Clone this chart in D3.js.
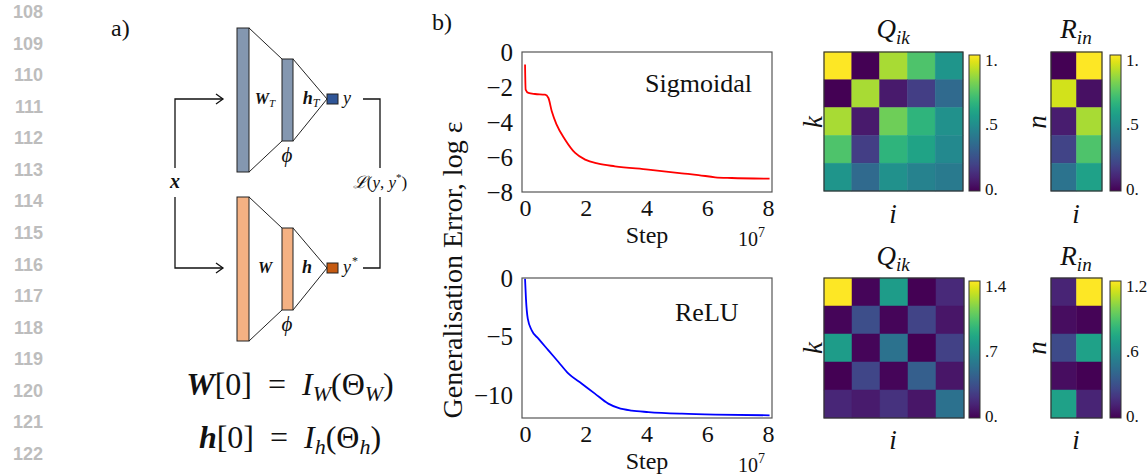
<!DOCTYPE html>
<html><head><meta charset="utf-8">
<script src="https://cdn.jsdelivr.net/npm/d3@7"></script>
<style>
html,body{margin:0;padding:0;background:#fff;}
svg{display:block;}
text{font-family:"Liberation Serif","DejaVu Serif",serif;fill:#111;}
.ln{font-family:"Liberation Sans",Arial,sans-serif;font-weight:bold;fill:#bdbdbd;font-size:18px;}
</style></head>
<body>
<svg id="c" width="1147" height="475"></svg>
<script>
// ---------- data ----------
const lineNumbers = [108,109,110,111,112,113,114,115,116,117,118,119,120,121,122];
const stepTicks = [0,2,4,6,8];
const sigTicks = [0,-2,-4,-6,-8];
const reluTicks = [0,-5,-10];
const sigmoidalX = [0.0,0.02,0.11,0.33,0.66,0.77,0.88,1.04,1.32,1.65,1.98,2.41,2.96,4.06,5.16,5.71,6.26,6.8,8.05];
const sigmoidalY = [-0.72,-2.15,-2.34,-2.4,-2.44,-2.63,-3.39,-4.15,-5.01,-5.77,-6.15,-6.38,-6.53,-6.72,-6.93,-7.03,-7.16,-7.2,-7.24];
const reluX = [0.0,0.03,0.09,0.22,0.44,0.77,1.1,1.43,1.87,2.3,2.74,3.07,3.51,4.06,5.16,6.26,8.05];
const reluY = [-0.06,-1.77,-3.49,-4.49,-5.2,-6.2,-7.2,-8.2,-9.06,-9.91,-10.77,-11.14,-11.37,-11.49,-11.63,-11.71,-11.77];
const qSig = [
  [1.0,0.0,0.87,0.72,0.52],
  [0.0,0.87,0.07,0.18,0.34],
  [0.87,0.07,0.78,0.65,0.50],
  [0.72,0.18,0.65,0.58,0.47],
  [0.52,0.34,0.50,0.44,0.41]];
const rSig = [[0.0,1.0],[0.93,0.04],[0.08,0.87],[0.2,0.72],[0.38,0.57]];
const qRelu = [
  [1.4,0.02,0.77,0.0,0.16],
  [0.02,0.33,0.02,0.28,0.08],
  [0.77,0.02,0.53,0.0,0.27],
  [0.0,0.29,0.02,0.42,0.08],
  [0.15,0.10,0.20,0.08,0.52]];
const rRelu = [[0.12,1.2],[0.04,0.01],[0.27,0.68],[0.04,0.0],[0.68,0.12]];
const qSigTicks = [0,0.5,1.0], qSigLabels = ["0.",".5","1."];
const rSigTicks = [0,0.5,1.0], rSigLabels = ["0.",".5","1."];
const qReluTicks = [0,0.7,1.4], qReluLabels = ["0.",".7","1.4"];
const rReluTicks = [0,0.6,1.2], rReluLabels = ["0.",".6","1.2"];

const svg = d3.select("#c");

// ---------- line numbers ----------
const lnScale = d3.scaleLinear().domain([108,122]).range([12,454]);
svg.selectAll("text.ln").data(lineNumbers).join("text").attr("class","ln")
  .attr("x",43).attr("y",d=>lnScale(d)).attr("text-anchor","end").attr("dominant-baseline","central").text(d=>d);

// ---------- panel labels ----------
svg.append("text").attr("x",111).attr("y",36).attr("font-size",24).text("a)");
svg.append("text").attr("x",432).attr("y",30).attr("font-size",24).text("b)");

// ---------- diagram ----------
const dg = svg.append("g");
function net(top, fillBig, fillSq, labW, labH, labY){
  const r1 = {x:237,y:top,w:12,h:144}, r2={x:282,y:top+31,w:11,h:82};
  const apex = top+71;
  const stroke="#222";
  dg.append("line").attr("x1",249).attr("y1",r1.y).attr("x2",r2.x).attr("y2",r2.y).attr("stroke",stroke).attr("stroke-width",1);
  dg.append("line").attr("x1",249).attr("y1",r1.y+r1.h).attr("x2",r2.x).attr("y2",r2.y+r2.h).attr("stroke",stroke).attr("stroke-width",1);
  dg.append("line").attr("x1",293).attr("y1",r2.y).attr("x2",327).attr("y2",apex).attr("stroke",stroke).attr("stroke-width",1);
  dg.append("line").attr("x1",293).attr("y1",r2.y+r2.h).attr("x2",327).attr("y2",apex).attr("stroke",stroke).attr("stroke-width",1);
  dg.append("rect").attr("x",r1.x).attr("y",r1.y).attr("width",r1.w).attr("height",r1.h).attr("fill",fillBig).attr("stroke",stroke).attr("stroke-width",1);
  dg.append("rect").attr("x",r2.x).attr("y",r2.y).attr("width",r2.w).attr("height",r2.h).attr("fill",fillBig).attr("stroke",stroke).attr("stroke-width",1);
  dg.append("rect").attr("x",327).attr("y",apex-5).attr("width",11).attr("height",10).attr("fill",fillSq).attr("stroke",stroke).attr("stroke-width",1);
  const tW = dg.append("text").attr("x",265).attr("y",apex+5).attr("text-anchor","middle").attr("font-size",16).attr("font-weight","bold").attr("font-style","italic");
  tW.append("tspan").text(labW[0]);
  if(labW[1]) tW.append("tspan").attr("font-size",11).attr("font-weight","normal").attr("dy",3).text(labW[1]);
  const tH = dg.append("text").attr("x",labW[1]?311:307).attr("y",apex+5).attr("text-anchor","middle").attr("font-size",18).attr("font-weight","bold").attr("font-style","italic");
  tH.append("tspan").text(labH[0]);
  if(labH[1]) tH.append("tspan").attr("font-size",12).attr("font-weight","normal").attr("dy",3).text(labH[1]);
  const tY = dg.append("text").attr("x",343).attr("y",apex+5).attr("font-size",18).attr("font-style","italic");
  tY.append("tspan").text("y");
  if(labY) tY.append("tspan").attr("font-size",12).attr("font-style","normal").attr("dy",-8).attr("dx",1).text(labY);
  dg.append("text").attr("x",287).attr("y",r2.y+r2.h+21).attr("text-anchor","middle").attr("font-size",21).attr("font-style","italic").text("ϕ");
  return apex;
}
const a1 = net(28,"#8497b0","#2f5597",["W","T"],["h","T"],null);
const a2 = net(197,"#f4b183","#c55a11",["W",null],["h",null],"*");

// connectors
const ls = {stroke:"#111","stroke-width":1.3,fill:"none"};
function path(d){const p=dg.append("path").attr("d",d);for(const k in ls)p.attr(k,ls[k]);return p;}
path(`M223,${a1} L175,${a1} L175,168`);
path(`M175,197 L175,${a2} L223,${a2}`);
path(`M216,${a1-5} L223,${a1} L216,${a1+5}`);
path(`M216,${a2-5} L223,${a2} L216,${a2+5}`);
path(`M363,${a1} L380,${a1} L380,168`);
path(`M380,197 L380,${a2} L363,${a2}`);
dg.append("text").attr("x",175).attr("y",188).attr("text-anchor","middle").attr("font-size",20).attr("font-weight","bold").attr("font-style","italic").text("x");
const tL = dg.append("text").attr("x",380).attr("y",188).attr("text-anchor","middle").attr("font-size",17);
tL.append("tspan").attr("font-family","'DejaVu Serif',serif").attr("font-style","italic").text("ℒ");
tL.append("tspan").text("(");
tL.append("tspan").attr("font-style","italic").text("y");
tL.append("tspan").text(", ");
tL.append("tspan").attr("font-style","italic").text("y");
tL.append("tspan").attr("font-size",11).attr("dy",-7).text("*");
tL.append("tspan").attr("dy",7).text(")");

// equations
function eq(y, sym, sub){
  const t = svg.append("text").attr("x",290).attr("y",y).attr("text-anchor","middle").attr("font-size",32);
  t.append("tspan").attr("font-weight","bold").attr("font-style","italic").text(sym);
  t.append("tspan").text("[0]\u2002=\u2002");
  t.append("tspan").attr("font-style","italic").text("I");
  t.append("tspan").attr("font-style","italic").attr("font-size",22).attr("dy",6).text(sub);
  t.append("tspan").attr("dy",-6).text("(Θ");
  t.append("tspan").attr("font-style","italic").attr("font-size",22).attr("dy",6).text(sub);
  t.append("tspan").attr("dy",-6).text(")");
}
eq(395,"W","W");
eq(448,"h","h");

// ---------- line charts ----------
const fmt = d => d<0 ? "\u2212"+Math.abs(d) : String(d);
function lineChart(y0,y1,domainY,ticksY,xs,ys,color,label,labX,labY,stepY){
  const x = d3.scaleLinear().domain([-0.1,8.13]).range([522,772]);
  const y = d3.scaleLinear().domain(domainY).range([y1,y0]);
  const g = svg.append("g");
  const data = xs.map((v,i)=>[v,ys[i]]);
  g.append("path").datum(data).attr("fill","none").attr("stroke",color).attr("stroke-width",1.8)
    .attr("d",d3.line().x(d=>x(d[0])).y(d=>y(d[1])).curve(d3.curveMonotoneX));
  g.append("rect").attr("x",522).attr("y",y0).attr("width",250).attr("height",y1-y0).attr("fill","none").attr("stroke","#555").attr("stroke-width",1.2);
  const ax = g.append("g").attr("transform",`translate(0,${y1})`).call(d3.axisBottom(x).tickValues(stepTicks).tickSize(0).tickPadding(7).tickFormat(fmt));
  const ay = g.append("g").attr("transform",`translate(522,0)`).call(d3.axisLeft(y).tickValues(ticksY).tickSize(0).tickPadding(9).tickFormat(fmt));
  ax.select(".domain").remove(); ay.select(".domain").remove();
  ax.selectAll("text").attr("font-family","Liberation Serif, serif").attr("font-size",24).attr("fill","#111").attr("dy","0.72em");
  ay.selectAll("text").attr("font-family","Liberation Serif, serif").attr("font-size",25).attr("fill","#111").attr("dy","0.34em");
  g.append("text").attr("y",labY).attr("x",labX).attr("font-size",26).text(label);
  g.append("text").attr("x",647).attr("y",stepY).attr("text-anchor","middle").attr("font-size",24).text("Step");
  const e = g.append("text").attr("x",738).attr("y",stepY+3).attr("font-size",20);
  e.append("tspan").text("10");
  e.append("tspan").attr("font-size",14).attr("dy",-9).text("7");
}
lineChart(52,192,[-8,0],sigTicks,sigmoidalX,sigmoidalY,"#ff0000","Sigmoidal",645,92,243);
lineChart(278,418,[-12,0],reluTicks,reluX,reluY,"#0000ff","ReLU",675,321,469);
svg.append("text").attr("transform","translate(462,270) rotate(-90)").attr("text-anchor","middle").attr("font-size",28)
  .text("Generalisation Error, log ε");

// ---------- heatmaps ----------
function heatmap(data, x0, y0, w, h, max, ticks, labels, cbx){
  const rows = d3.range(data.length), cols = d3.range(data[0].length);
  const xb = d3.scaleBand().domain(cols).range([x0,x0+w]);
  const yb = d3.scaleBand().domain(rows).range([y0,y0+h]);
  const col = d3.scaleSequential(d3.interpolateViridis).domain([0,max]);
  const g = svg.append("g");
  data.forEach((row,r)=>row.forEach((v,c)=>{
    g.append("rect").attr("x",xb(c)).attr("y",yb(r)).attr("width",xb.bandwidth()).attr("height",yb.bandwidth())
      .attr("fill",col(v)).attr("stroke",col(v)).attr("stroke-width",0.5);
  }));
  g.append("rect").attr("x",x0).attr("y",y0).attr("width",w).attr("height",h).attr("fill","none").attr("stroke","#333").attr("stroke-width",1.2);
  const id = "grad"+Math.round(x0)+"_"+Math.round(y0);
  const grad = svg.append("defs").append("linearGradient").attr("id",id).attr("x1",0).attr("y1",1).attr("x2",0).attr("y2",0);
  d3.range(0,1.0001,0.05).forEach(t=>grad.append("stop").attr("offset",t).attr("stop-color",d3.interpolateViridis(t)));
  const cbTop = y0+3, cbBot = y0+h;
  g.append("rect").attr("x",cbx).attr("y",cbTop).attr("width",11).attr("height",cbBot-cbTop).attr("fill",`url(#${id})`).attr("stroke","#333").attr("stroke-width",1);
  const ys = d3.scaleLinear().domain([0,max]).range([cbBot-2,cbTop+5]);
  ticks.forEach((t,i)=>{
    g.append("text").attr("x",cbx+16).attr("y",ys(t)).attr("dy","0.35em").attr("font-size",17).text(labels[i]);
  });
}
heatmap(qSig, 824, 52, 139, 139, 1.0, qSigTicks, qSigLabels, 969);
heatmap(rSig, 1051, 52, 51, 139, 1.0, rSigTicks, rSigLabels, 1110);
heatmap(qRelu, 824, 278, 140, 140, 1.4, qReluTicks, qReluLabels, 969);
heatmap(rRelu, 1051, 278, 51, 140, 1.2, rReluTicks, rReluLabels, 1110);

function title(x,y,main,sub){
  const t = svg.append("text").attr("x",x).attr("y",y).attr("text-anchor","middle").attr("font-size",27).attr("font-style","italic");
  t.append("tspan").text(main);
  t.append("tspan").attr("font-size",19).attr("dy",6).text(sub);
}
title(893,38,"Q","ik"); title(1076,38,"R","in");
title(893,265,"Q","ik"); title(1076,265,"R","in");
function axlab(x,y,s,rot){
  svg.append("text").attr("transform",`translate(${x},${y})`+(rot?" rotate(-90)":"")).attr("text-anchor","middle").attr("dominant-baseline","central")
    .attr("font-size",27).attr("font-style","italic").text(s);
}
axlab(813,122,"k",true); axlab(1037,122,"n",true);
axlab(813,348,"k",true); axlab(1037,348,"n",true);
axlab(893,214,"i",false); axlab(1076,214,"i",false);
axlab(893,440,"i",false); axlab(1076,440,"i",false);
</script>
</body></html>
